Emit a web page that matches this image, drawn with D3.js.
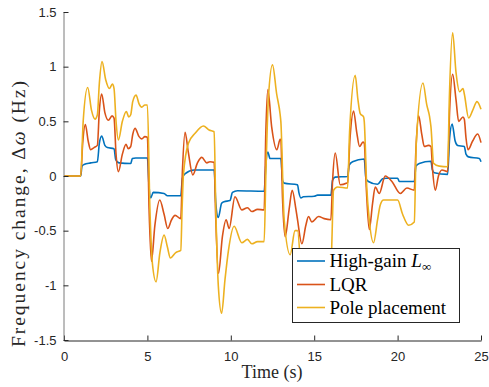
<!DOCTYPE html>
<html>
<head>
<meta charset="utf-8">
<script src="https://cdn.jsdelivr.net/npm/d3@7"></script>
<style>
  html, body { margin: 0; padding: 0; background: #fff; }
  svg { display: block; }
</style>
</head>
<body>
<svg id="chart" width="489" height="387"></svg>
<script>
// ---- data (time in s, frequency change in Hz) ----
const seriesNames = ["High-gain L\u221E", "LQR", "Pole placement"];
const xTicks = [0, 5, 10, 15, 20, 25];
const yTicks = [-1.5, -1, -0.5, 0, 0.5, 1, 1.5];

const highGain = [
  [0,0],[1,0],[1.08,0.09],[1.2,0.105],[1.6,0.12],[2,0.13],
  [2.12,0.3],[2.26,0.366],[2.45,0.28],[2.6,0.26],[3,0.25],
  [3.1,0.15],[3.3,0.12],[4,0.115],[4.1,0.16],[4.3,0.165],[5,0.165],
  [5.1,-0.1],[5.2,-0.2],[5.35,-0.15],[6,-0.16],[6.2,-0.18],[7,-0.18],
  [7.1,-0.02],[7.25,0.02],[7.8,0.055],[9,0.055],
  [9.1,-0.25],[9.25,-0.38],[9.45,-0.25],[9.6,-0.235],[9.95,-0.225],[10.1,-0.15],[10.4,-0.135],[12,-0.14],
  [12.1,0.1],[12.22,0.22],[12.35,0.16],[13,0.16],
  [13.1,-0.04],[13.2,-0.065],[14,-0.08],[14.08,-0.15],[14.2,-0.2],[14.35,-0.19],[15,-0.185],[15.2,-0.175],[16,-0.175],
  [16.1,-0.04],[16.25,-0.01],[17,-0.005],[17.1,0.1],[17.3,0.13],[18,0.155],
  [18.1,-0.02],[18.25,-0.05],[18.8,-0.076],[19.1,-0.025],[19.3,-0.02],[20,-0.02],[20.1,-0.05],[21,-0.05],
  [21.1,0.09],[21.3,0.115],[22,0.135],[22.08,0.06],[22.2,0.03],[23,0.015],
  [23.12,0.35],[23.27,0.476],[23.45,0.32],[23.6,0.28],[24,0.27],[24.1,0.2],[24.25,0.175],[24.9,0.16],[25,0.13]
];

const lqr = [
  [0,0],[1,0],[1.12,0.3],[1.28,0.47],[1.45,0.32],[1.6,0.24],[1.8,0.26],[2,0.28],
  [2.12,0.6],[2.26,0.75],[2.45,0.58],[2.66,0.51],[2.88,0.55],[3,0.53],
  [3.12,0.2],[3.26,0.04],[3.5,0.2],[3.72,0.29],[3.85,0.25],[4,0.27],
  [4.12,0.38],[4.26,0.436],[4.5,0.36],[4.66,0.34],[4.85,0.36],[5,0.355],
  [5.1,-0.3],[5.24,-0.78],[5.45,-0.45],[5.74,-0.22],[6,-0.35],[6.22,-0.48],[6.45,-0.4],[6.66,-0.36],[7,-0.39],
  [7.1,0.05],[7.26,0.40],[7.45,0.22],[7.72,0.01],[8,0.12],[8.26,0.17],[8.56,0.12],[8.75,0.13],[9,0.125],
  [9.1,-0.4],[9.26,-0.89],[9.5,-0.55],[9.72,-0.40],[9.9,-0.48],[10.25,-0.19],[10.66,-0.31],[11,-0.29],[11.26,-0.325],[11.6,-0.305],[12,-0.31],
  [12.1,0.4],[12.22,0.79],[12.45,0.45],[12.76,0.24],[12.96,0.335],[13,0.33],
  [13.1,-0.2],[13.26,-0.555],[13.5,-0.3],[13.68,-0.13],[13.9,-0.3],[14,-0.4],[14.26,-0.62],[14.5,-0.45],[14.66,-0.37],[14.86,-0.42],[15.26,-0.37],[15.6,-0.39],[16,-0.40],
  [16.1,-0.05],[16.26,0.21],[16.56,-0.08],[16.92,-0.067],[17,-0.06],
  [17.15,0.35],[17.36,0.595],[17.55,0.4],[17.72,0.27],[17.92,0.31],[18,0.3],
  [18.12,-0.1],[18.3,-0.49],[18.5,-0.25],[18.66,-0.10],[18.9,-0.16],[19.26,0.0],[19.66,-0.05],[20.16,-0.16],[20.56,-0.11],[21,-0.13],
  [21.1,0.25],[21.26,0.55],[21.45,0.38],[21.6,0.27],[21.85,0.28],[22,0.27],
  [22.1,0.05],[22.26,-0.13],[22.45,0.0],[22.66,0.055],[23,0.04],
  [23.12,0.6],[23.3,0.93],[23.5,0.7],[23.66,0.50],[23.92,0.54],[24,0.52],
  [24.1,0.35],[24.22,0.24],[24.5,0.32],[24.8,0.384],[25,0.305]
];

const polePlacement = [
  [0,0],[1,0],[1.15,0.5],[1.42,0.81],[1.65,0.6],[1.86,0.52],[2,0.56],
  [2.12,0.85],[2.28,1.046],[2.5,0.88],[2.72,0.80],[2.9,0.84],[3,0.8],
  [3.12,0.5],[3.26,0.33],[3.5,0.5],[3.74,0.59],[3.88,0.54],[4,0.56],
  [4.12,0.68],[4.32,0.74],[4.5,0.66],[4.66,0.63],[4.85,0.65],[5,0.65],
  [5.15,-0.3],[5.3,-0.8],[5.52,-0.967],[5.75,-0.7],[6,-0.54],[6.2,-0.65],[6.38,-0.75],[6.7,-0.7],[7,-0.68],
  [7.08,-0.3],[7.16,0.01],[7.46,0.3],[7.86,0.39],[8.36,0.457],[8.7,0.42],[9,0.405],
  [9.1,-0.3],[9.25,-1.0],[9.45,-1.256],[9.65,-0.95],[9.86,-0.68],[10.2,-0.46],[10.66,-0.61],[11,-0.58],[11.26,-0.62],[11.6,-0.6],[12,-0.60],
  [12.1,0.0],[12.25,0.7],[12.5,1.016],[12.75,0.75],[12.96,0.56],[13,0.5],
  [13.2,-0.4],[13.56,-0.72],[13.85,-0.5],[14,-0.5],[14.3,-1.0],[14.7,-0.95],[15.2,-0.85],[15.6,-0.9],[16,-0.9],
  [16.06,-0.6],[16.16,-0.13],[16.4,-0.1],[17,-0.11],
  [17.12,0.4],[17.46,0.92],[17.62,0.7],[17.76,0.57],[17.96,0.54],[18,0.5],
  [18.15,-0.1],[18.3,-0.4],[18.56,-0.61],[18.8,-0.4],[18.96,-0.265],[19.16,-0.22],[20,-0.22],[20.3,-0.35],[20.66,-0.45],[21,-0.42],
  [21.12,0.3],[21.52,0.85],[21.75,0.65],[21.92,0.54],[22,0.45],[22.16,0.115],[22.5,0.09],[23,0.085],
  [23.1,0.7],[23.3,1.31],[23.5,0.95],[23.72,0.77],[23.92,0.80],[24,0.75],[24.26,0.53],[24.5,0.6],[24.76,0.68],[25,0.61]
];

const seriesData = [highGain, lqr, polePlacement];
const colors = ["#0072BD", "#D95319", "#EDB120"];

// ---- layout ----
const svg = d3.select("#chart");
const x = d3.scaleLinear().domain([0, 25]).range([64, 481]);
const y = d3.scaleLinear().domain([-1.5, 1.5]).range([340, 12]);

const axisColor = "#262626";
const tickFont = "'Liberation Sans', Arial, Helvetica, sans-serif";
const serif = "'Liberation Serif', 'Times New Roman', serif";

// lines
const line = d3.line()
  .x(d => x(d[0]))
  .y(d => y(d[1]))
  .curve(d3.curveMonotoneX);

const plot = svg.append("g");
seriesData.forEach((s, i) => {
  plot.append("path")
    .datum(s)
    .attr("fill", "none")
    .attr("stroke", colors[i])
    .attr("stroke-width", 1.6)
    .attr("stroke-linejoin", "round")
    .attr("d", line);
});

// axes
const xAxis = d3.axisBottom(x).tickValues(xTicks).tickSizeInner(-5).tickSizeOuter(0).tickPadding(11)
  .tickFormat(d => String(d));
const gx = svg.append("g").attr("transform", "translate(0,340.5)").call(xAxis);

const yAxis = d3.axisLeft(y).tickValues(yTicks).tickSizeInner(-5).tickSizeOuter(0).tickPadding(7)
  .tickFormat(d => String(d));
const gy = svg.append("g").attr("transform", "translate(63.5,0)").call(yAxis);

gx.select(".domain").attr("stroke", axisColor).attr("stroke-width", 1);
gy.select(".domain").attr("stroke", "#7a7a7a").attr("stroke-width", 1);
[gx, gy].forEach(g => {
  g.selectAll(".tick line").attr("stroke", axisColor);
  g.selectAll(".tick text")
    .attr("fill", axisColor)
    .style("font-family", tickFont)
    .style("font-size", "13px");
});

// axis labels
svg.append("text")
  .attr("x", 272).attr("y", 378)
  .attr("text-anchor", "middle")
  .attr("fill", axisColor)
  .style("font-family", serif)
  .style("font-size", "18px")
  .text("Time (s)");

const yl = svg.append("text")
  .attr("transform", "translate(25,214) rotate(-90)")
  .attr("text-anchor", "middle")
  .attr("fill", axisColor)
  .attr("textLength", 266)
  .attr("lengthAdjust", "spacing")
  .style("font-family", serif)
  .style("font-size", "19.5px");
yl.append("tspan").text("Frequency change, \u0394");
yl.append("tspan").style("font-style", "italic").text("\u03C9");
yl.append("tspan").text(" (Hz)");

// legend
const lg = svg.append("g");
lg.append("rect")
  .attr("x", 292.5).attr("y", 248.5)
  .attr("width", 167).attr("height", 74)
  .attr("fill", "#fff")
  .attr("stroke", axisColor)
  .attr("stroke-width", 1);

const rowY = [261, 284.5, 307.5];
seriesNames.forEach((name, i) => {
  lg.append("line")
    .attr("x1", 297).attr("x2", 325)
    .attr("y1", rowY[i]).attr("y2", rowY[i])
    .attr("stroke", colors[i])
    .attr("stroke-width", 1.6);
  const t = lg.append("text")
    .attr("x", 329.5).attr("y", rowY[i] + 6)
    .attr("fill", "#000")
    .style("font-family", serif)
    .style("font-size", "19px");
  if (i === 0) {
    t.append("tspan").text("High-gain ");
    t.append("tspan").style("font-style", "italic").text("L");
    t.append("tspan").attr("dy", 4).style("font-size", "13px").text("\u221E");
  } else {
    t.text(name);
  }
});
</script>
</body>
</html>
